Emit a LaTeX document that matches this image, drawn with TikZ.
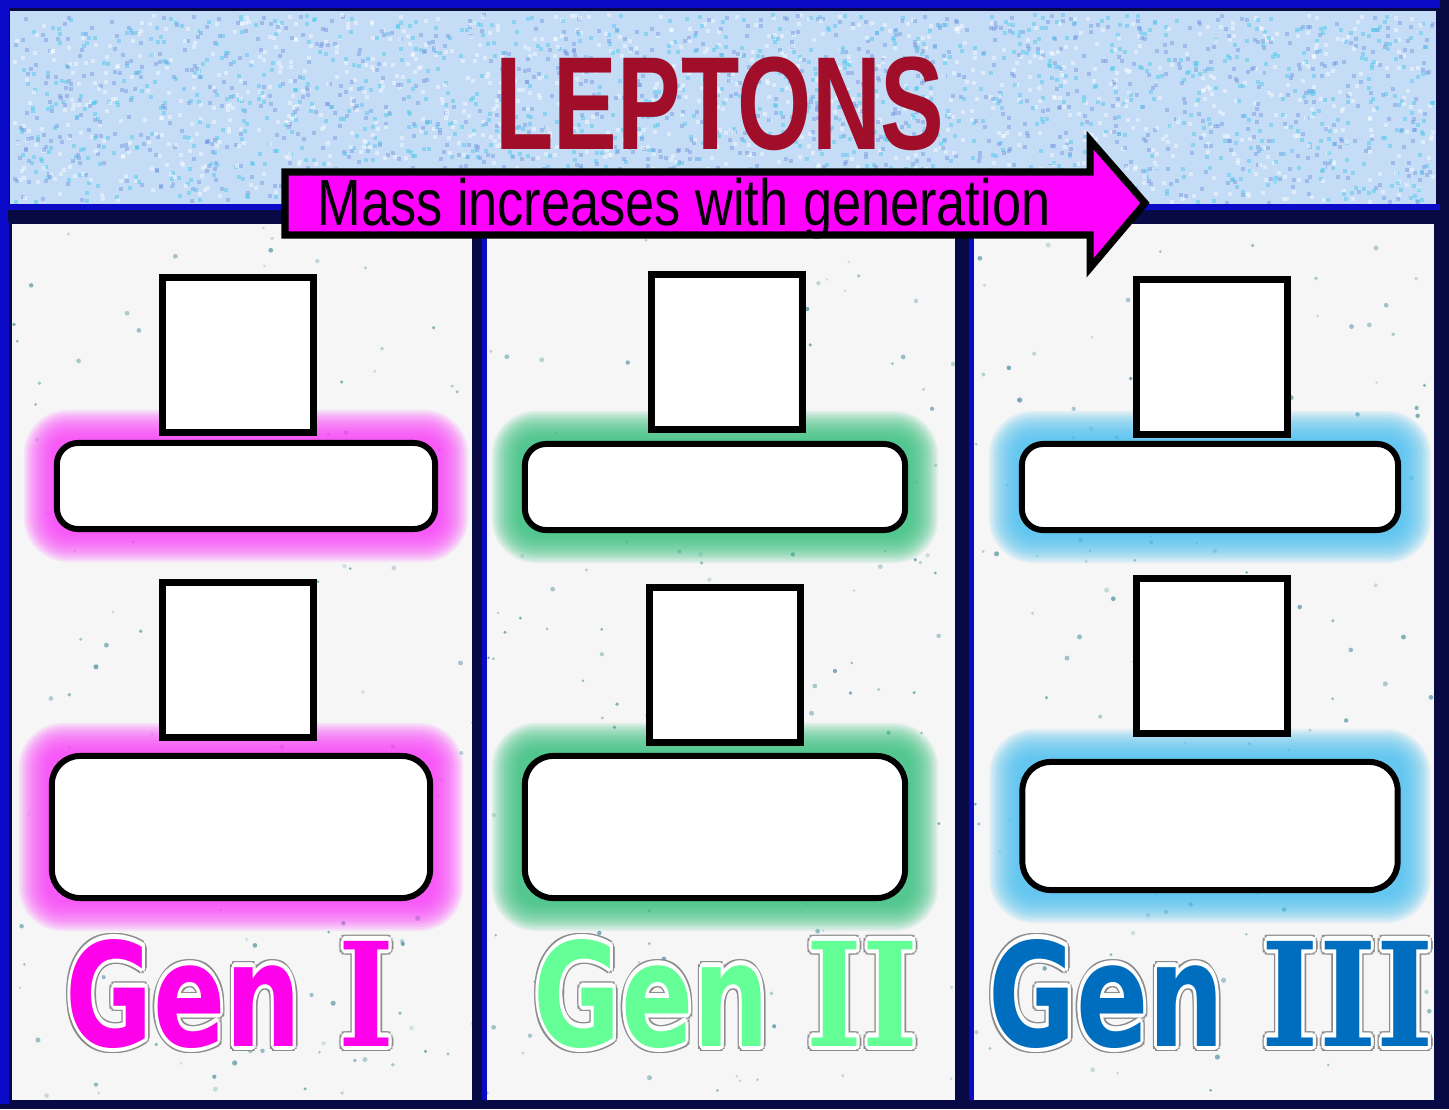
\documentclass[tikz,border=0pt]{standalone}
\usepackage{fontspec}
\setmainfont{Liberation Sans}
\newfontfamily\genfont{DejaVu Sans}
\newfontfamily\numfont{DejaVu Serif}
\usetikzlibrary{positioning,calc}
\definecolor{BandBlue}{RGB}{196,220,246}
\definecolor{GrainBlue}{RGB}{110,150,225}
\definecolor{GrainCyan}{RGB}{70,200,235}
\definecolor{FrameNavy}{RGB}{8,10,70}
\definecolor{FrameBlue}{RGB}{10,10,200}
\definecolor{PaperGray}{RGB}{246,246,246}
\definecolor{SpeckTeal}{RGB}{60,135,150}
\definecolor{TitleRed}{RGB}{160,14,42}
\definecolor{ArrowPink}{RGB}{255,0,255}
\definecolor{GenPink}{RGB}{255,0,235}
\definecolor{GenGreen}{RGB}{100,255,150}
\definecolor{GenBlue}{RGB}{0,110,190}
\definecolor{GlowPink}{RGB}{255,70,255}
\definecolor{GlowGreen}{RGB}{60,195,130}
\definecolor{GlowBlue}{RGB}{80,195,240}
\pgfdeclarelayer{backdrop}
\pgfdeclarelayer{glow}
\pgfsetlayers{backdrop,glow,main}
% outlined lettering: grey rim, white rim, then the coloured text
\newcommand\halo[2]{%
  \setbox0\hbox{#2}%
  \foreach \a in {0,30,...,330}{%
    \pgfmathsetlengthmacro\dx{1.7pt*cos(\a)}\pgfmathsetlengthmacro\dy{1.7pt*sin(\a)}%
    \rlap{\kern\dx\raise\dy\hbox{\textcolor{black!45}{\copy0}}}}%
  \foreach \a in {0,30,...,330}{%
    \pgfmathsetlengthmacro\dx{1.15pt*cos(\a)}\pgfmathsetlengthmacro\dy{1.15pt*sin(\a)}%
    \rlap{\kern\dx\raise\dy\hbox{\textcolor{white}{\copy0}}}}%
  \textcolor{#1}{\copy0}}
\tikzset{
  sq/.style={draw=black,line width=2pt,fill=white,inner sep=0pt,
    minimum width=1.5cm,minimum height=1.54cm},
  bar/.style={draw=black,line width=1.7pt,fill=white,rounded corners=6pt,
    inner sep=0pt,minimum width=3.78cm,minimum height=0.86cm},
  bigbox/.style={bar,rounded corners=8pt,minimum height=1.42cm},
  genlbl/.style={anchor=base west,inner sep=0pt,
    font=\genfont\bfseries\fontsize{41}{41}\selectfont},
}

\begin{document}
\begin{tikzpicture}[x=0.01cm,y=-0.01cm]
\useasboundingbox (0,0) rectangle (1449,1109);
% frame, band and columns
\begin{pgfonlayer}{backdrop}
\fill[FrameNavy] (0,0) rectangle (1449,1109);
\fill[FrameBlue] (0,0) rectangle (1440,8);
\fill[FrameBlue] (0,0) rectangle (9,1104);
\fill[BandBlue] (10,11) rectangle (1436,204);
\pgfmathsetseed{11}
\foreach \k in {1,...,3200}{
  \pgfmathsetmacro\px{12+rnd*1420}
  \pgfmathsetmacro\py{13+rnd*188}
  \pgfmathtruncatemacro\pick{3*rnd}
  \ifcase\pick\def\gc{white}\or\def\gc{GrainBlue}\else\def\gc{GrainCyan}\fi
  \fill[\gc,opacity=0.45] (\px,\py) rectangle ++(4,4);
}
\fill[FrameBlue] (8,204) rectangle (1440,210);
\fill[FrameNavy] (8,210) rectangle (1440,222);
\fill[PaperGray] (12,224) rectangle (472,1100);
\fill[PaperGray] (487,224) rectangle (955,1100);
\fill[PaperGray] (974,224) rectangle (1434,1100);
\fill[FrameBlue] (482,224) rectangle (487,1100);
\fill[FrameBlue] (969,224) rectangle (974,1100);
\begin{scope}
\clip (12,224) rectangle (472,1100) (487,224) rectangle (955,1100)
  (974,224) rectangle (1434,1100);
\foreach \k in {1,...,450}{
  \pgfmathsetmacro\px{12+rnd*1422}
  \pgfmathsetmacro\py{226+rnd*872}
  \pgfmathsetmacro\op{0.2+0.5*rnd}
  \fill[SpeckTeal,opacity=\op] (\px,\py) circle (1.3+1.3*rnd);
}
\end{scope}
\end{pgfonlayer}

% title and arrow
\node[inner sep=0pt,text=TitleRed,font=\bfseries\fontsize{37.7}{38}\selectfont]
  (title) at (720,104) {\scalebox{0.72}[1]{LEPTONS}};
\draw[black,line width=2pt,fill=ArrowPink] (285,172) -- (1090,172) -- (1090,140)
  -- (1145,203) -- (1090,268) -- (1090,235) -- (285,235) -- cycle;
\node[anchor=base,inner sep=0pt,font=\fontsize{18.6}{19}\selectfont]
  (masstxt) at (684,225) {\scalebox{0.8}[1]{Mass increases with generation}};

% slots
\node[sq] (sqIa) at (238,355) {};
\node[bar] (barI) at (246,486) {};
\node[sq] (sqIb) at (238,660) {};
\node[bigbox] (boxI) at (241,827) {};
\node[sq] (sqIIa) at (727,352) {};
\node[bar,minimum width=3.8cm] (barII) at (715,487) {};
\node[sq] (sqIIb) at (725,665) {};
\node[bigbox,minimum width=3.8cm] (boxII) at (715,827) {};
\node[sq] (sqIIIa) at (1212,357) {};
\node[bar,minimum width=3.76cm] (barIII) at (1210,487) {};
\node[sq] (sqIIIb) at (1212,656) {};
\node[bigbox,minimum width=3.75cm,minimum height=1.28cm] (boxIII) at (1210,826) {};

% soft glow round the bars
\begin{pgfonlayer}{glow}
\foreach \n/\c in {barI/GlowPink,boxI/GlowPink,barII/GlowGreen,boxII/GlowGreen,
    barIII/GlowBlue,boxIII/GlowBlue}{
  \foreach \d in {30,28,...,2}{
    \pgfmathsetmacro\r{0.14+\d*0.01}
    \fill[\c,fill opacity=0.12,rounded corners=\r cm]
      ($(\n.south west)+(-\d,\d)$) rectangle ($(\n.north east)+(\d,-\d)$);
  }
}
\end{pgfonlayer}

% generation labels
\node[genlbl] (genI) at (65,1046)
  {\scalebox{0.74}[1]{\halo{GenPink}{Gen {\numfont\scalebox{1.12}[1]{I}}}}};
\node[genlbl] (genII) at (533,1046)
  {\scalebox{0.74}[1]{\halo{GenGreen}{Gen {\numfont\scalebox{1.12}[1]{II}}}}};
\begin{scope}
\clip (974,224) rectangle (1434,1100);
\node[genlbl] (genIII) at (988,1046)
  {\scalebox{0.74}[1]{\halo{GenBlue}{Gen {\numfont\scalebox{1.15}[1]{III}}}}};
\end{scope}
\end{tikzpicture}
\end{document}
